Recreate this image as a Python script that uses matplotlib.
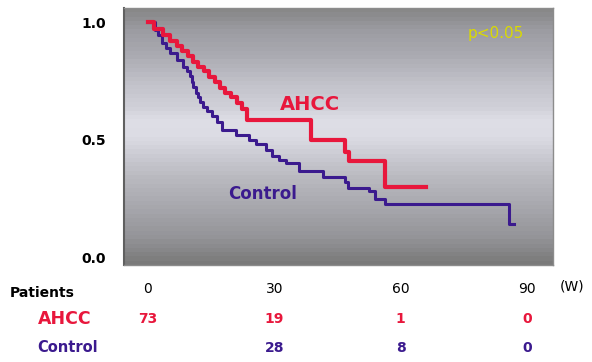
import numpy as np
import matplotlib.pyplot as plt
from matplotlib.colors import LinearSegmentedColormap
from matplotlib.transforms import blended_transform_factory

# Kaplan-Meier style curves (time in weeks, survival)
ahcc_t = [0, 1.5, 3.5, 5.2, 6.8, 8.0, 9.4, 10.6, 11.8, 13.2, 14.6, 15.8, 17.2,
          18.4, 19.8, 21.2, 22.4, 23.6, 38.8, 46.9, 47.8, 56.4, 66.0]
ahcc_s = [1.0, 0.97, 0.945, 0.92, 0.90, 0.875, 0.855, 0.83, 0.81, 0.79, 0.765,
          0.745, 0.72, 0.70, 0.68, 0.655, 0.63, 0.585, 0.496, 0.445, 0.41,
          0.30, 0.30]

ctrl_t = [0, 1.6, 2.4, 3.3, 4.2, 5.2, 6.8, 8.3, 9.2, 9.9, 10.4, 10.6, 11.3,
          11.8, 12.3, 13.0, 13.9, 15.1, 16.3, 17.5, 21.0, 24.1, 25.7, 28.1,
          29.5, 31.1, 32.8, 35.8, 41.5, 46.9, 47.6, 52.4, 54.0, 56.4, 85.8,
          87.0]
ctrl_s = [1.0, 0.966, 0.945, 0.91, 0.89, 0.87, 0.84, 0.81, 0.79, 0.77, 0.745,
          0.725, 0.70, 0.68, 0.66, 0.64, 0.62, 0.60, 0.575, 0.54, 0.52, 0.50,
          0.48, 0.455, 0.43, 0.415, 0.40, 0.365, 0.34, 0.32, 0.295, 0.28,
          0.245, 0.225, 0.14, 0.14]

ticks = [0, 30, 60, 90]
ahcc_risk = ["73", "19", "1", "0"]
ctrl_risk = ["", "28", "8", "0"]

red = "#e8173c"
blue = "#3b1a8e"

fig = plt.figure(figsize=(5.92, 3.62), dpi=100)
ax = fig.add_axes([124 / 592, 1 - 265 / 362, 429 / 592, 257 / 362])
ax.set_xlim(-5.7, 96.2)
ax.set_ylim(-0.034, 1.06)

# banded grey background
bg = LinearSegmentedColormap.from_list("bg", [
    (0.0, "#7a7a7a"), (0.1, "#949498"), (0.25, "#acacb2"), (0.35, "#bcbcc2"),
    (0.42, "#cacad2"), (0.5, "#dcdce4"), (0.56, "#dedee6"), (0.62, "#d0d0d8"),
    (0.72, "#c0c0c8"), (0.82, "#ababb2"), (0.92, "#9c9ca2"), (1.0, "#888888")])
grad = np.linspace(0, 1, 60).reshape(-1, 1)
ax.imshow(grad, cmap=bg, aspect="auto", origin="lower",
          extent=[0, 1, 0, 1], transform=ax.transAxes, zorder=0,
          interpolation="nearest")

ax.step(ctrl_t, ctrl_s, where="post", color=blue, lw=2.2, zorder=3)
ax.step(ahcc_t, ahcc_s, where="post", color=red, lw=3.0, zorder=4)

for s in ax.spines.values():
    s.set_color("#8c8c8c")
    s.set_linewidth(1.0)
ax.spines["left"].set_color("#606060")
ax.spines["left"].set_linewidth(1.5)

ax.set_yticks([0.0, 0.5, 1.0])
ax.set_yticklabels(["0.0", "0.5", "1.0"], fontsize=10, fontweight="bold")
ax.set_xticks(ticks)
ax.set_xticklabels([str(t) for t in ticks], fontsize=10)
ax.tick_params(length=0)
ax.tick_params(axis="y", pad=13)
ax.tick_params(axis="x", pad=12)

ax.text(38.5, 0.65, "AHCC", color=red, fontsize=14, fontweight="bold",
        ha="center", va="center")
ax.text(27.3, 0.27, "Control", color=blue, fontsize=12, fontweight="bold",
        ha="center", va="center")
ax.text(82.5, 0.95, "p<0.05", color="#dada00", fontsize=11,
        ha="center", va="center")

# risk table under the axis
tr = blended_transform_factory(ax.transData, fig.transFigure)
for t, a, c in zip(ticks, ahcc_risk, ctrl_risk):
    ax.text(t, 1 - 319 / 362, a, color=red, fontsize=10, fontweight="bold",
            ha="center", va="center", transform=tr)
    ax.text(t, 1 - 348 / 362, c, color=blue, fontsize=10, fontweight="bold",
            ha="center", va="center", transform=tr)

fig.text(572 / 592, 1 - 287 / 362, "(W)", fontsize=10, ha="center", va="center")
fig.text(10 / 592, 1 - 293 / 362, "Patients", fontsize=10, fontweight="bold",
         ha="left", va="center")
fig.text(92 / 592, 1 - 319 / 362, "AHCC", color=red, fontsize=12.5,
         fontweight="bold", ha="right", va="center")
fig.text(98 / 592, 1 - 348 / 362, "Control", color=blue, fontsize=10.5,
         fontweight="bold", ha="right", va="center")

fig.savefig("out.png", dpi=100)
